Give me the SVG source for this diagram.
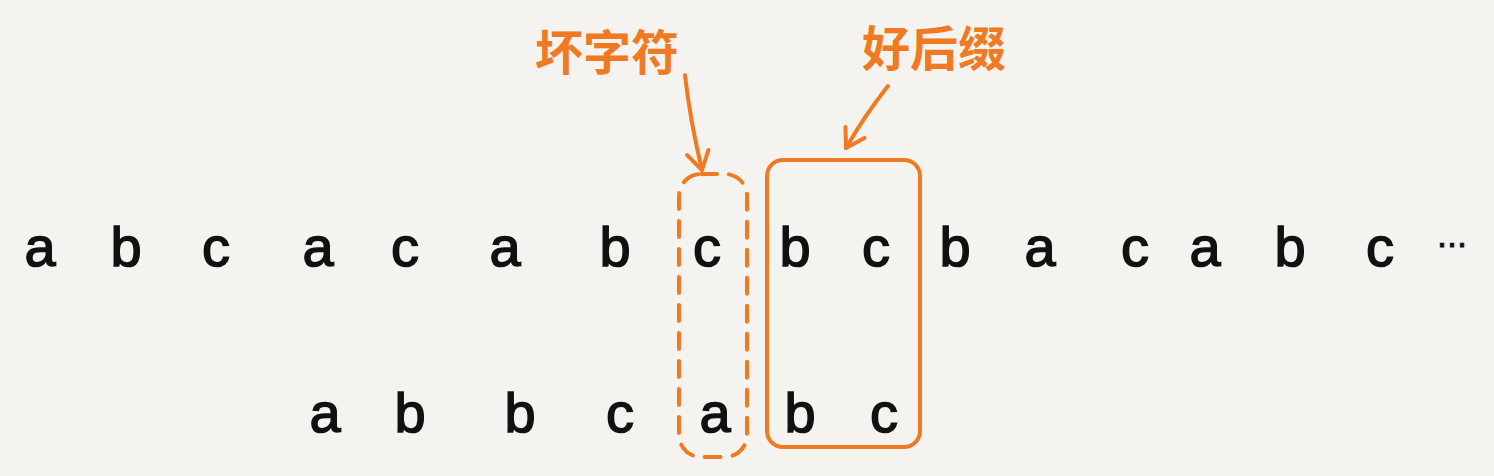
<svg xmlns="http://www.w3.org/2000/svg" width="1494" height="476" viewBox="0 0 1494 476">
<style>
.ch{font-family:"Liberation Sans","DejaVu Sans",sans-serif;font-size:56px;fill:#111;stroke:#111;stroke-width:1.5;text-anchor:middle}
.lb{font-family:"Noto Sans CJK SC","Noto Sans",sans-serif;font-size:48px;font-weight:bold;fill:#f07a22}
.or{fill:none;stroke:#f07a22;stroke-width:4;stroke-linecap:round;stroke-linejoin:round}
</style>
<defs>
<marker id="ah" viewBox="0 0 28 28" refX="22" refY="14" markerWidth="28" markerHeight="28" markerUnits="userSpaceOnUse" orient="auto">
<path d="M4,3 L22,14 L4,25" fill="none" stroke="#f07a22" stroke-width="4" stroke-linecap="round" stroke-linejoin="round"/>
</marker>
</defs>
<rect width="1494" height="476" fill="#f5f3ef"/>
<g id="text-row">
<text class="ch" x="40" y="266">a</text>
<text class="ch" x="126" y="266">b</text>
<text class="ch" x="216" y="266">c</text>
<text class="ch" x="318" y="266">a</text>
<text class="ch" x="405" y="266">c</text>
<text class="ch" x="505" y="266">a</text>
<text class="ch" x="615" y="266">b</text>
<text class="ch" x="707" y="266">c</text>
<text class="ch" x="795" y="266">b</text>
<text class="ch" x="876" y="266">c</text>
<text class="ch" x="955" y="266">b</text>
<text class="ch" x="1040" y="266">a</text>
<text class="ch" x="1135" y="266">c</text>
<text class="ch" x="1205" y="266">a</text>
<text class="ch" x="1290" y="266">b</text>
<text class="ch" x="1380" y="266">c</text>
<text class="ch" x="1452" y="247" style="font-size:36px;stroke-width:0.8">...</text>
</g>
<g id="pattern-row">
<text class="ch" x="325" y="432">a</text>
<text class="ch" x="410" y="432">b</text>
<text class="ch" x="520" y="432">b</text>
<text class="ch" x="620" y="432">c</text>
<text class="ch" x="715" y="432">a</text>
<text class="ch" x="800" y="432">b</text>
<text class="ch" x="884" y="432">c</text>
</g>
<g id="bad-char">
<rect class="or" x="679" y="174" width="68" height="283" rx="22" stroke-dasharray="16 12"/>
<text class="lb" x="535" y="70">坏字符</text>
</g>
<g id="good-suffix">
<rect class="or" x="767" y="160" width="153" height="287" rx="16"/>
<text class="lb" x="862" y="66">好后缀</text>
</g>
<g id="connectors">
<path class="or" d="M685,75 Q690,120 702,170" marker-end="url(#ah)"/>
<path class="or" d="M888,86 Q865,115 846,148" marker-end="url(#ah)"/>
</g>
</svg>
